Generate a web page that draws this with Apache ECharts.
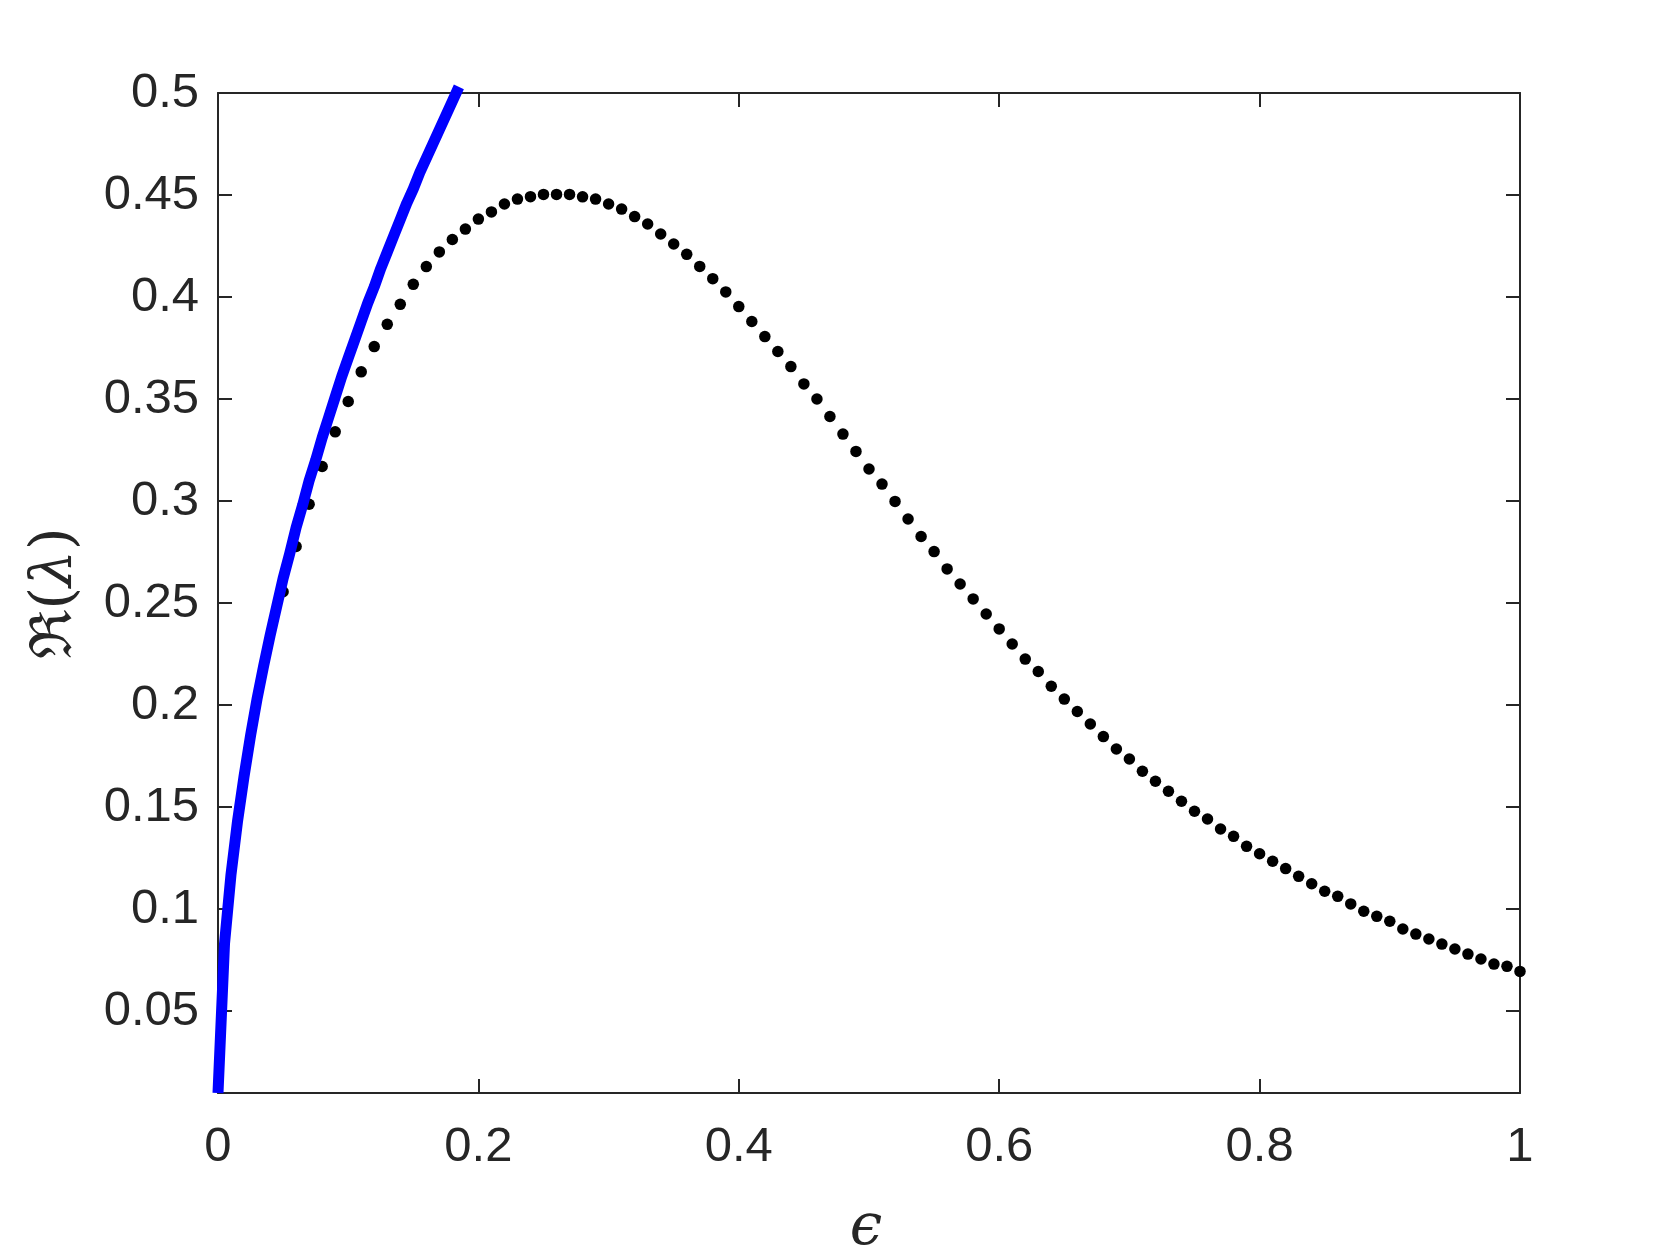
<!DOCTYPE html>
<html>
<head>
<meta charset="utf-8">
<script src="https://cdn.jsdelivr.net/npm/echarts@6/dist/echarts.min.js"></script>
<style>
html,body{margin:0;padding:0;background:#fff;}
#chart{width:1679px;height:1258px;}
</style>
</head>
<body>
<div id="chart"></div>
<script>
// Dotted curve (black markers)
const dotEps = [0.05,0.06,0.07,0.08,0.09,0.10,0.11,0.12,0.13,0.14,0.15,0.16,0.17,0.18,0.19,0.20,
  0.21,0.22,0.23,0.24,0.25,0.26,0.27,0.28,0.29,0.30,0.31,0.32,0.33,0.34,0.35,0.36,0.37,0.38,0.39,0.40,
  0.41,0.42,0.43,0.44,0.45,0.46,0.47,0.48,0.49,0.50,0.51,0.52,0.53,0.54,0.55,0.56,0.57,0.58,0.59,0.60,
  0.61,0.62,0.63,0.64,0.65,0.66,0.67,0.68,0.69,0.70,0.71,0.72,0.73,0.74,0.75,0.76,0.77,0.78,0.79,0.80,
  0.81,0.82,0.83,0.84,0.85,0.86,0.87,0.88,0.89,0.90,0.91,0.92,0.93,0.94,0.95,0.96,0.97,0.98,0.99,1.00];
const dotVals = [0.2555,0.2777,0.2984,0.3169,0.3339,0.3488,0.3633,0.3757,0.3866,0.3964,0.4062,0.4149,0.4221,0.4282,0.4333,0.4382,
  0.4417,0.4456,0.4480,0.4492,0.4503,0.4503,0.4503,0.4491,0.4480,0.4456,0.4431,0.4394,0.4358,0.4309,0.4260,0.4209,0.4150,0.4090,0.4025,0.3953,
  0.3880,0.3806,0.3733,0.3659,0.3574,0.3500,0.3414,0.3328,0.3243,0.3157,0.3083,0.2998,0.2912,0.2826,0.2752,0.2667,0.2593,0.2520,0.2446,0.2373,
  0.2299,0.2225,0.2164,0.2092,0.2029,0.1968,0.1907,0.1845,0.1784,0.1735,0.1675,0.1626,0.1577,0.1528,0.1479,0.1441,0.1392,0.1356,0.1307,0.1271,
  0.1234,0.1198,0.1160,0.1124,0.1087,0.1062,0.1025,0.0989,0.0964,0.0940,0.0902,0.0877,0.0853,0.0828,0.0804,0.0779,0.0755,0.0730,0.0719,0.0694];

// Solid blue curve
const lineEps = [0,0.005,0.01,0.015,0.02,0.025,0.03,0.035,0.04,0.045,0.05,0.055,0.06,0.065,0.07,0.075,0.08,0.085,0.09,0.095,
  0.10,0.105,0.11,0.115,0.12,0.125,0.13,0.135,0.14,0.145,0.15,0.155,0.16,0.165,0.17,0.175,0.18,0.185];
const lineVals = [0.0098,0.083,0.117,0.143,0.165,0.185,0.203,0.219,0.234,0.248,0.262,0.274,0.287,0.298,0.310,0.320,0.331,0.341,0.351,0.361,
  0.370,0.379,0.388,0.397,0.405,0.414,0.422,0.430,0.438,0.446,0.453,0.461,0.468,0.475,0.482,0.489,0.496,0.503];

// Axis ticks
const xTicks = [0,0.2,0.4,0.6,0.8,1];
const yTicks = [0.05,0.1,0.15,0.2,0.25,0.3,0.35,0.4,0.45,0.5];
const xLabel = 'ϵ';

const AX = '#262626';
const chart = echarts.init(document.getElementById('chart'), null, {renderer:'canvas'});

function xAxisCfg(pos, showLabel){
  return {
    type:'value', position:pos, min:0, max:1, interval:0.2,
    axisLine:{show:true, onZero:false, lineStyle:{color:AX, width:2}},
    axisTick:{show:true, inside:true, length:14, lineStyle:{color:AX, width:2}},
    axisLabel:{show:showLabel, color:AX, fontSize:49, fontFamily:'Liberation Sans, Arial, sans-serif', margin:30},
    splitLine:{show:false}
  };
}
function yAxisCfg(pos, showLabel){
  return {
    type:'value', position:pos, min:0.0098, max:0.5,
    axisLine:{show:true, onZero:false, lineStyle:{color:AX, width:2}},
    axisTick:{show:true, inside:true, length:14, customValues:yTicks, lineStyle:{color:AX, width:2}},
    axisLabel:{show:showLabel, customValues:yTicks, color:AX, fontSize:49, fontFamily:'Liberation Sans, Arial, sans-serif', margin:19,
      formatter:function(v){return String(Math.round(v*100)/100);}},
    splitLine:{show:false}
  };
}

chart.setOption({
  animation:false,
  backgroundColor:'#fff',
  grid:{left:218, right:159, top:93, bottom:165, containLabel:false},
  xAxis:[xAxisCfg('bottom', true), xAxisCfg('top', false)],
  yAxis:[yAxisCfg('left', true), yAxisCfg('right', false)],
  series:[
    {
      type:'scatter', xAxisIndex:0, yAxisIndex:0,
      data: dotEps.map((e,i)=>[e, dotVals[i]]),
      symbol:'circle', symbolSize:11.5,
      itemStyle:{color:'#000', opacity:1}, z:2
    },
    {
      type:'line', xAxisIndex:0, yAxisIndex:0,
      data: lineEps.map((e,i)=>[e, lineVals[i]]),
      showSymbol:false, clip:false, smooth:false,
      lineStyle:{color:'#0000ff', width:11, cap:'butt', join:'round'}, z:3
    }
  ],
  graphic:[
    {
      type:'text', x:866, y:1229, z:10,
      style:{text:xLabel, font:'italic 58px "DejaVu Serif", serif', fill:AX, textAlign:'center', textVerticalAlign:'middle'}
    },
    {
      type:'text', x:56, y:593, rotation:Math.PI/2, z:10,
      style:{
        text:'{a|ℜ(}{b|λ}{a|)}',
        textAlign:'center', textVerticalAlign:'middle',
        rich:{
          a:{font:'58px "DejaVu Serif", serif', fill:AX},
          b:{font:'italic 58px "DejaVu Serif", serif', fill:AX}
        }
      }
    }
  ]
});
</script>
</body>
</html>
